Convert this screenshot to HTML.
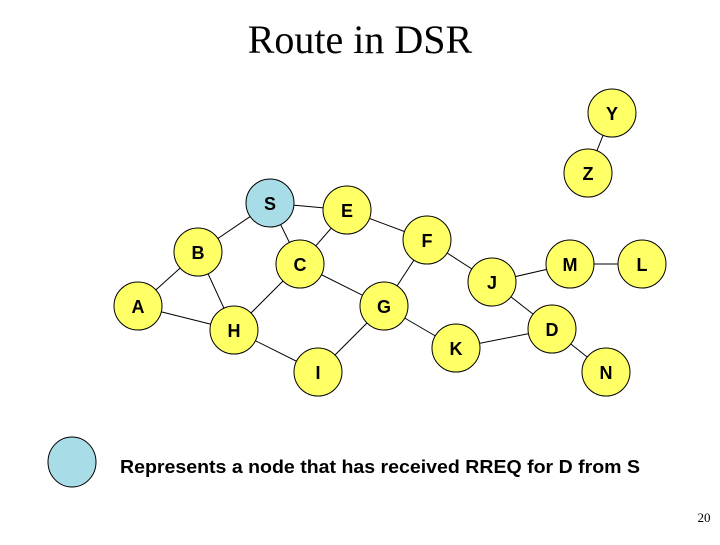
<!DOCTYPE html>
<html><head><meta charset="utf-8"><style>
html,body{margin:0;padding:0;background:#fff;}
</style></head><body>
<svg width="720" height="540" viewBox="0 0 720 540" xmlns="http://www.w3.org/2000/svg">
<text x="360" y="53" text-anchor="middle" font-family="Liberation Serif, serif" font-size="40">Route in DSR</text>
<g stroke="#000" stroke-width="1">
<line x1="270" y1="203" x2="347" y2="210"/>
<line x1="270" y1="203" x2="198" y2="252"/>
<line x1="270" y1="203" x2="300" y2="264"/>
<line x1="347" y1="210" x2="300" y2="264"/>
<line x1="347" y1="210" x2="427" y2="240"/>
<line x1="427" y1="240" x2="492" y2="282"/>
<line x1="427" y1="240" x2="384" y2="306"/>
<line x1="198" y1="252" x2="138" y2="306"/>
<line x1="198" y1="252" x2="234" y2="330"/>
<line x1="138" y1="306" x2="234" y2="330"/>
<line x1="300" y1="264" x2="234" y2="330"/>
<line x1="300" y1="264" x2="384" y2="306"/>
<line x1="384" y1="306" x2="318" y2="372"/>
<line x1="384" y1="306" x2="456" y2="348"/>
<line x1="234" y1="330" x2="318" y2="372"/>
<line x1="492" y1="282" x2="570" y2="264"/>
<line x1="570" y1="264" x2="642" y2="264"/>
<line x1="492" y1="282" x2="552" y2="329"/>
<line x1="456" y1="348" x2="552" y2="329"/>
<line x1="552" y1="329" x2="606" y2="372"/>
<line x1="612" y1="113" x2="588" y2="173"/>
</g>
<g stroke="#000" stroke-width="1" fill="#ffff66">
<circle cx="612" cy="113" r="24"/>
<circle cx="588" cy="173" r="24"/>
<circle cx="270" cy="203" r="24" fill="#a8dce6"/>
<circle cx="347" cy="210" r="24"/>
<circle cx="427" cy="240" r="24"/>
<circle cx="198" cy="252" r="24"/>
<circle cx="300" cy="264" r="24"/>
<circle cx="492" cy="282" r="24"/>
<circle cx="570" cy="264" r="24"/>
<circle cx="642" cy="264" r="24"/>
<circle cx="138" cy="306" r="24"/>
<circle cx="384" cy="306" r="24"/>
<circle cx="234" cy="330" r="24"/>
<circle cx="552" cy="329" r="24"/>
<circle cx="456" cy="348" r="24"/>
<circle cx="318" cy="372" r="24"/>
<circle cx="606" cy="372" r="24"/>
<ellipse cx="72" cy="462" rx="24" ry="25" fill="#a8dce6"/>
</g>
<g font-family="Liberation Sans, sans-serif" font-weight="bold" font-size="18" text-anchor="middle">
<text x="612" y="120">Y</text>
<text x="588" y="180">Z</text>
<text x="270" y="210">S</text>
<text x="347" y="217">E</text>
<text x="427" y="247">F</text>
<text x="198" y="259">B</text>
<text x="300" y="271">C</text>
<text x="492" y="289">J</text>
<text x="570" y="271">M</text>
<text x="642" y="271">L</text>
<text x="138" y="313">A</text>
<text x="384" y="313">G</text>
<text x="234" y="337">H</text>
<text x="552" y="336">D</text>
<text x="456" y="355">K</text>
<text x="318" y="379">I</text>
<text x="606" y="379">N</text>
</g>
<text x="120" y="473" font-family="Liberation Sans, sans-serif" font-weight="bold" font-size="18" textLength="520" lengthAdjust="spacingAndGlyphs">Represents a node that has received RREQ for D from S</text>
<text x="704" y="522" text-anchor="middle" font-family="Liberation Serif, serif" font-size="13">20</text>
</svg>
</body></html>
